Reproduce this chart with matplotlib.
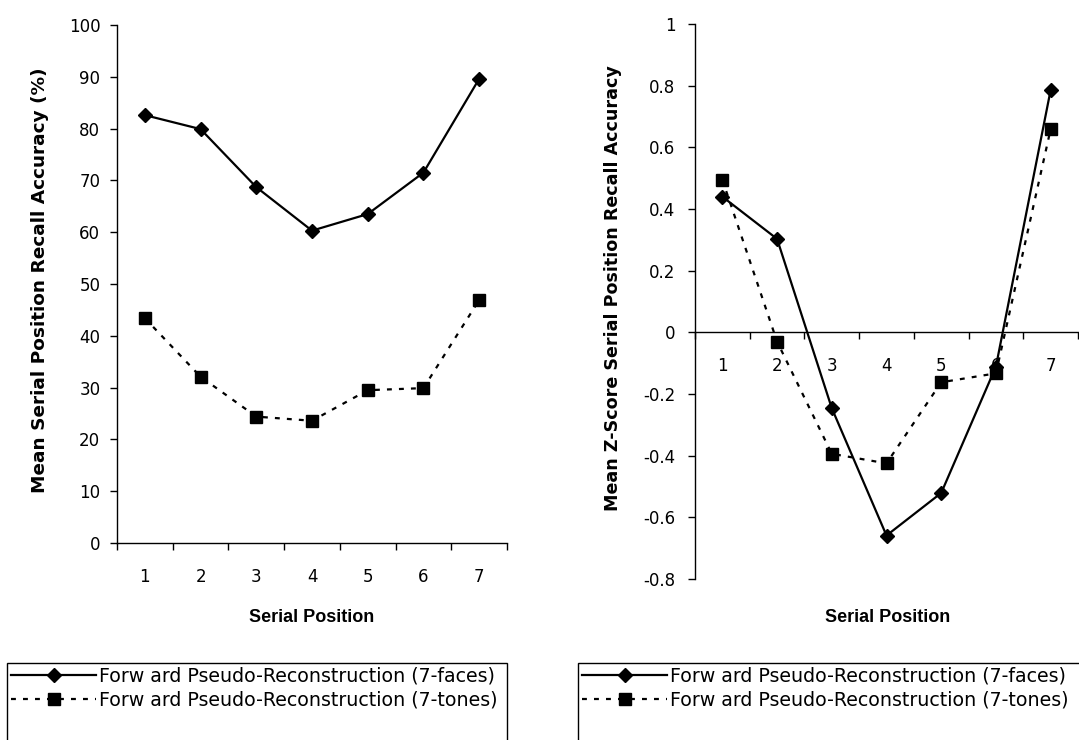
import matplotlib
matplotlib.use("Agg")
import matplotlib.pyplot as plt
from matplotlib.patches import Rectangle
from matplotlib.ticker import MultipleLocator, FixedLocator, FuncFormatter

plt.rcParams['font.family'] = ['DejaVu Sans']

positions = [1, 2, 3, 4, 5, 6, 7]
faces_pct = [82.6, 79.9, 68.7, 60.3, 63.5, 71.5, 89.6]
tones_pct = [43.4, 32.1, 24.4, 23.6, 29.5, 29.9, 46.9]
faces_z = [0.44, 0.303, -0.246, -0.659, -0.521, -0.111, 0.786]
tones_z = [0.495, -0.030, -0.394, -0.425, -0.162, -0.133, 0.659]

label_faces = "Forw ard Pseudo-Reconstruction (7-faces)"
label_tones = "Forw ard Pseudo-Reconstruction (7-tones)"

W, H = 1079, 740
fig = plt.figure(figsize=(W / 100, H / 100), dpi=100)

def fx(px):
    return px / W

def fy(py):
    return 1 - py / H

ax1 = fig.add_axes([fx(117), fy(543), fx(507 - 117), (543 - 25) / H])
ax2 = fig.add_axes([fx(695), fy(579), fx(1078 - 695), (579 - 24) / H])

line_kw_f = dict(color='black', linestyle='-', linewidth=1.6, marker='D', markersize=7.5)
line_kw_t = dict(color='black', linestyle=(0, (2.2, 3.2)), linewidth=1.6, marker='s', markersize=9)

tick_fs = 12
xlab_font = dict(family='Liberation Sans', fontsize=13, fontweight='bold')

for ax, fv, tv in ((ax1, faces_pct, tones_pct), (ax2, faces_z, tones_z)):
    ax.plot(positions, fv, label=label_faces, **line_kw_f)
    ax.plot(positions, tv, label=label_tones, **line_kw_t)
    ax.set_xlim(0.5, 7.5)
    ax.spines['top'].set_visible(False)
    ax.spines['right'].set_visible(False)
    ax.xaxis.set_major_locator(FixedLocator(positions))
    ax.xaxis.set_minor_locator(FixedLocator([p - 0.5 for p in positions] + [7.5]))
    ax.tick_params(axis='x', which='major', length=0, labelsize=tick_fs, pad=18)
    ax.tick_params(axis='x', which='minor', length=5, width=1, direction='out')
    ax.tick_params(axis='y', length=5, width=1, direction='out', labelsize=tick_fs)
    for s in ('left', 'bottom'):
        ax.spines[s].set_linewidth(1)

ax1.set_ylim(0, 100)
ax1.yaxis.set_major_locator(MultipleLocator(10))
ax1.tick_params(axis='y', pad=7)
ax1.set_ylabel("Mean Serial Position Recall Accuracy (%)", fontsize=13.3, fontweight='bold')
ax1.yaxis.set_label_coords((40 - 117) / 390, (543 - 280) / 518)
ax1.yaxis.label.set_va('center')
ax1.set_xlabel("Serial Position", **xlab_font)
ax1.xaxis.set_label_coords((312 - 117) / 390, (543 - 618) / 518)
ax1.xaxis.label.set_va('center')

ax2.set_ylim(-0.8, 1.0)
ax2.yaxis.set_major_locator(MultipleLocator(0.2))
ax2.yaxis.set_major_formatter(FuncFormatter(
    lambda v, p: "0" if abs(v) < 1e-9 else ("1" if abs(v - 1) < 1e-9 else f"{v:.1f}")))
ax2.tick_params(axis='y', pad=9)
ax2.spines['bottom'].set_position(('data', 0))
ax2.set_ylabel("Mean Z-Score Serial Position Recall Accuracy", fontsize=12.6, fontweight='bold')
ax2.yaxis.set_label_coords((613 - 695) / 383, (579 - 288) / 555)
ax2.yaxis.label.set_va('center')
fig.text(fx(888), fy(618), "Serial Position", ha='center', va='center', **xlab_font)

leg_kw = dict(loc='upper left', bbox_transform=fig.transFigure, frameon=False,
              fontsize=13.7, handlelength=4.5,
              handletextpad=0.15, labelspacing=0.27, borderpad=0.2, borderaxespad=0)
ax1.legend(bbox_to_anchor=(fx(7), fy(663)), **leg_kw)
ax2.legend(bbox_to_anchor=(fx(578), fy(663)), **leg_kw)

# legend frames, open at the bottom edge of the picture as in the reference
for x0, x1 in ((7, 507), (578, 1090)):
    fig.patches.append(Rectangle((fx(x0), fy(750)), fx(x1 - x0), (750 - 663) / H,
                                 transform=fig.transFigure, fill=False,
                                 edgecolor='black', linewidth=1, clip_on=False))

fig.savefig("out.png", dpi=100)
